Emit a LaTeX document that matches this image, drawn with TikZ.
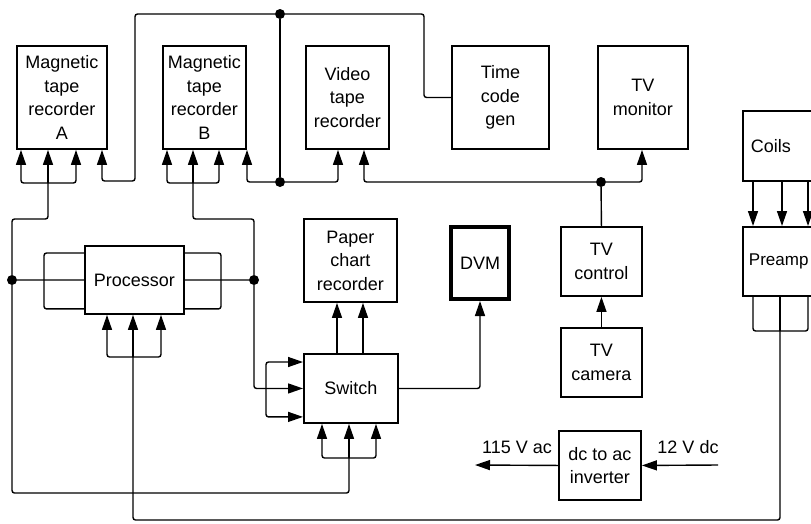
\documentclass[tikz,border=0pt]{standalone}
\usepackage{fontspec}
\setmainfont{Liberation Sans}
\usetikzlibrary{arrows.meta}
\begin{document}
\begin{tikzpicture}[x=1pt,y=-1pt,
  box/.style={draw, line width=1.9pt, anchor=north west, align=center, inner sep=0pt, font=\fontsize{18}{23.5}\selectfont},
  conn/.style={line width=1.4pt, rounded corners=2.5pt},
  arr/.style={conn, -{Triangle[length=15pt,width=10pt]}},
  dot/.style={circle, fill, inner sep=0pt, minimum size=10pt},
  lbl/.style={font=\fontsize{18}{22}\selectfont, inner sep=0pt},
]
\useasboundingbox (0,0) rectangle (811,523);
\clip (0,0) rectangle (811,523);

% boxes
\node[box, minimum width=90pt, minimum height=103pt] (mtrA) at (16,45) {Magnetic\\tape\\recorder\\A};
\node[box, minimum width=83pt, minimum height=103pt] (mtrB) at (162,45) {Magnetic\\tape\\recorder\\B};
\node[box, minimum width=83pt, minimum height=103pt] (vtr) at (305,45) {Video\\tape\\recorder};
\node[box, minimum width=97pt, minimum height=103pt] (tcg) at (451,45) {Time\\code\\gen};
\node[box, minimum width=90pt, minimum height=103pt] (tvm) at (597,45) {TV\\monitor};
\node[box, minimum width=100pt, minimum height=70pt, text width=92pt, align=left, inner xsep=8pt] (coils) at (742,110) {Coils};
\node[box, minimum width=100pt, minimum height=69pt, text width=94pt, align=left, inner xsep=6pt, font=\fontsize{17}{22}\selectfont] (preamp) at (742,226) {Preamp};
\node[box, minimum width=99pt, minimum height=68pt] (proc) at (84,245) {Processor};
\node[box, minimum width=93pt, minimum height=83pt] (pcr) at (303,218) {Paper\\chart\\recorder};
\node[box, line width=4pt, minimum width=58pt, minimum height=72pt] (dvm) at (449,225) {DVM};
\node[box, minimum width=81pt, minimum height=69pt] (tvc) at (560,226) {TV\\control};
\node[box, minimum width=81pt, minimum height=69pt] (tvcam) at (560,327) {TV\\camera};
\node[box, minimum width=94pt, minimum height=69pt] (sw) at (303,353) {Switch};
\node[box, minimum width=82pt, minimum height=69pt] (inv) at (558,430) {dc to ac\\inverter};

% junctions
\node[dot] (T) at (280,14) {};
\node[dot] (M) at (280,182) {};
\node[dot] (L) at (12,280) {};
\node[dot] (R) at (254,280) {};
\node[dot] (V) at (601,182) {};
\coordinate (bA) at (48,183);
\coordinate (bB) at (193,183);
\coordinate (bP) at (133,357);
\coordinate (bS) at (349,458);
\coordinate (bPre) at (780,331);
\coordinate (acout) at (475,465);
\coordinate (dcin) at (718,465);

% recorder A
\draw[arr] (bA) -| ([xshift=5pt]mtrA.south west);
\draw[arr] (bA) -- ([xshift=32pt]mtrA.south west);
\draw[arr] (bA) -| ([xshift=60pt]mtrA.south west);
\draw[conn] (L) |- (48,219) -- (bA);
\draw[arr] (T) -- (135,14) -- (135,181) -| ([xshift=86pt]mtrA.south west);

% recorder B
\draw[arr] (bB) -| ([xshift=5pt]mtrB.south west);
\draw[arr] (bB) -- ([xshift=31pt]mtrB.south west);
\draw[arr] (bB) -| ([xshift=57pt]mtrB.south west);
\draw[conn] (R) |- (193,219) -- (bB);
\draw[arr] (M) -| ([xshift=85pt]mtrB.south west);

% timing bus
\draw[conn] (T) -- (M);
\draw[conn] (T) -- (424,14) |- (tcg.west);
\draw[arr] (M) -| ([xshift=33pt]vtr.south west);

% TV
\draw[arr] (V) -| ([xshift=59pt]vtr.south west);
\draw[arr] (V) -| ([xshift=45pt]tvm.south west);
\draw[conn] (V) -- (tvc.north);
\draw[arr] (tvcam) -- (tvc);

% processor
\draw[conn] (L) -- (proc.west);
\draw[conn] ([yshift=-8pt]proc.north west) -| (44,280) |- ([yshift=6pt]proc.south west);
\draw[conn] ([yshift=-8pt]proc.north east) -| (221,280) |- ([yshift=6pt]proc.south east);
\draw[conn] (proc.east) -- (R);
\draw[arr] (bP) -| ([xshift=23pt]proc.south west);
\draw[arr] (bP) -- ([xshift=49pt]proc.south west);
\draw[arr] (bP) -| ([xshift=77pt]proc.south west);
\draw[conn] (bP) -- (133,520) -| (bPre);

% coils / preamp
\draw[arr] ([xshift=11pt]coils.south west) -- ([xshift=11pt]preamp.north west);
\draw[arr] ([xshift=40pt]coils.south west) -- ([xshift=40pt]preamp.north west);
\draw[arr] ([xshift=66pt]coils.south west) -- ([xshift=66pt]preamp.north west);
\draw[conn] ([xshift=11pt]preamp.south west) |- (808,331) -- ([xshift=66pt]preamp.south west);
\draw[conn] ([xshift=38pt]preamp.south west) -- (bPre);

% switch
\draw[arr] (R) |- (sw.west);
\draw[arr] (266,388) |- ([yshift=-9pt]sw.north west);
\draw[arr] (266,388) |- ([yshift=7pt]sw.south west);
\draw[arr] (bS) -| ([xshift=19pt]sw.south west);
\draw[arr] (bS) -- ([xshift=46pt]sw.south west);
\draw[arr] (bS) -| ([xshift=73pt]sw.south west);
\draw[conn] (L) |- (349,493) -- (bS);
\draw[arr] ([xshift=34pt]sw.north west) -- ([xshift=34pt]pcr.south west);
\draw[arr] ([xshift=60pt]sw.north west) -- ([xshift=60pt]pcr.south west);
\draw[arr] (sw.east) -| (dvm.south);

% inverter
\draw[arr] (inv.west) -- (acout);
\draw[arr] (dcin) -- (inv.east);
\node[lbl] (acl) at (517,447) {115 V ac};
\node[lbl] (dcl) at (688,447) {12 V dc};
\end{tikzpicture}
\end{document}
